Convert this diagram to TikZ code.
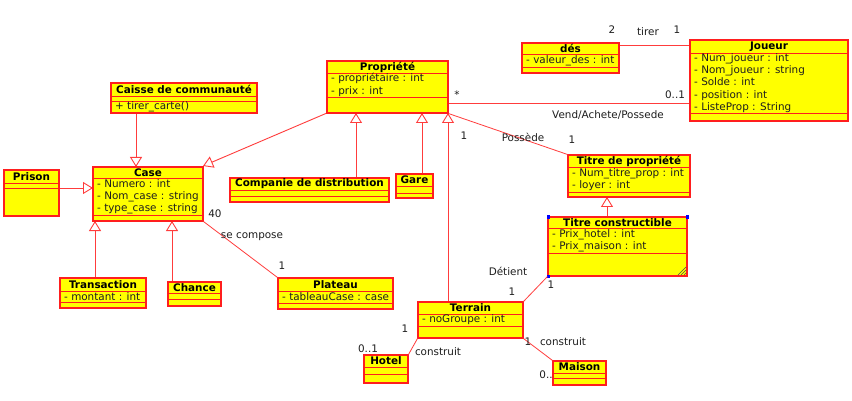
\documentclass[tikz,border=0pt]{standalone}
\usepackage{fontspec}
\setmainfont{DejaVu Sans}
\usetikzlibrary{fit,arrows.meta}
\definecolor{umlfill}{RGB}{255,255,0}
\definecolor{umlline}{RGB}{255,30,30}
\definecolor{umlconn}{RGB}{255,60,60}
\definecolor{umltext}{RGB}{30,30,30}
\tikzset{
  classbox/.style={draw=umlline, fill=umlfill, line width=1.1pt, inner sep=0pt, rectangle},
  sepline/.style={draw=umlline, line width=0.9pt},
  titletext/.style={font=\fontsize{10.4}{12.2}\selectfont\bfseries, text=black, inner sep=0pt},
  attrtext/.style={font=\fontsize{10.4}{12.2}\selectfont, text=umltext, inner sep=0pt, align=left, anchor=west},
  lbl/.style={font=\fontsize{10.4}{12.2}\selectfont, text=umltext, inner sep=0pt},
  gen/.style={draw=umlconn, line width=0.9pt, -{Triangle[open, width=12pt, length=10pt, fill=white]}},
  assoc/.style={draw=umlconn, line width=0.8pt},
}
\newcommand\umlclass[8]{%
  \node[classbox, fit={(#2,#3)(#4,#5)}] (#1) {};
  \draw[sepline] (#2,#6) -- (#4,#6);
  \draw[sepline] (#2,#7) -- (#4,#7);
  \node[titletext] (#1-t) at ({(#2+#4)/2},{(#3+#6)/2}) {#8};
}
\newcommand\umlattr[5]{%
  \node[attrtext] (#1) at ({#2+4},{(#3+#4)/2}) {#5};
}
\begin{document}
\begin{tikzpicture}[x=1pt,y=-1pt]
\useasboundingbox[fill=white] (0,0) rectangle (852,401);

% ---- connectors (drawn first, boxes over them) ----
% generalizations
\path[gen] (136,113) -- (136,167);
\path[gen] (59,188) -- (93,188);
\path[gen] (327,113) -- (203,166);
\path[gen] (95,278) -- (95,221);
\path[gen] (172,282) -- (172,221);
\path[gen] (356,178) -- (356,113);
\path[gen] (422,174) -- (422,113);
\path[gen] (448,302) -- (448,113);
\path[gen] (607,217) -- (607,197);

% ---- classes ----
\umlclass{caisse}{111}{83}{257}{113}{96}{101}{Caisse de communauté}
\umlattr{caisse-o}{111}{101}{113}{+ tirer\_carte()}

\umlclass{case}{93}{167}{203}{221}{178}{215}{Case}
\umlattr{case-a}{93}{178}{215}{- Numero : int\\- Nom\_case : string\\- type\_case : string}

\umlclass{prison}{4}{170}{59}{216}{183}{188}{Prison}

\umlclass{compagnie}{230}{178}{389}{202}{190}{196}{Companie de distribution}

\umlclass{gare}{396}{174}{433}{198}{186}{193}{Gare}

\umlclass{propriete}{327}{61}{448}{113}{73}{97}{Propriété}
\umlattr{propriete-a}{327}{73}{97}{- propriétaire : int\\- prix : int}

\umlclass{des}{522}{43}{619}{73}{54}{67}{dés}
\umlattr{des-a}{522}{54}{67}{- valeur\_des : int}

\umlclass{joueur}{690}{40}{848}{121}{53}{113}{Joueur}
\umlattr{joueur-a}{690}{53}{113}{- Num\_joueur : int\\- Nom\_joueur : string\\- Solde : int\\- position : int\\- ListeProp : String}

\umlclass{titre}{568}{155}{690}{197}{167}{192}{Titre de propriété}
\umlattr{titre-a}{568}{167}{192}{- Num\_titre\_prop : int\\- loyer : int}

\umlclass{constr}{548}{217}{687}{276}{228}{253}{Titre constructible}
\umlattr{constr-a}{548}{228}{253}{- Prix\_hotel : int\\- Prix\_maison : int}
% selection handles
\fill[blue] (546.5,215.5) rectangle (549.5,218.5);
\fill[blue] (685.5,215.5) rectangle (688.5,218.5);
\fill[blue] (546.5,274.5) rectangle (549.5,277.5);
\draw[black!70, line width=0.6pt] (678,275) -- (686,267) (681,275) -- (686,270) (684,275) -- (686,273);

\umlclass{terrain}{418}{302}{523}{338}{314}{326}{Terrain}
\umlattr{terrain-a}{418}{314}{326}{- noGroupe : int}

\node[lbl] (l-maison-m) at (546,375) {0..};
\umlclass{hotel}{364}{355}{408}{383}{367}{374}{Hotel}
\umlclass{maison}{553}{361}{606}{385}{373}{378}{Maison}

\umlclass{transaction}{60}{278}{146}{308}{291}{302}{Transaction}
\umlattr{transaction-a}{60}{291}{302}{- montant : int}

\umlclass{chance}{168}{282}{221}{306}{293}{299}{Chance}

\umlclass{plateau}{278}{278}{393}{309}{291}{303}{Plateau}
\umlattr{plateau-a}{278}{291}{303}{- tableauCase : case}

% ---- associations ----
\draw[assoc] (case.south east) -- (plateau.north west);
\draw[assoc] (propriete.east |- 0,103) -- (joueur.west |- 0,103);
\draw[assoc] (propriete.south east) -- (titre.north west);
\draw[assoc] (terrain.north east) -- (constr.south west);
\draw[assoc] (des.east |- 0,45) -- (joueur.west |- 0,45);
\draw[assoc] (terrain.south west) -- (hotel.north east);
\draw[assoc] (terrain.south east) -- (maison.north west);

% ---- labels ----
\node[lbl] (l-40) at (215,214) {40};
\node[lbl] (l-secompose) at (252,237) {se compose};
\node[lbl] (l-plateau1) at (282,266) {1};
\node[lbl] (l-star) at (457,95) {*};
\node[lbl] (l-joueur01) at (675,95) {0..1};
\node[lbl] (l-vend) at (608,115) {Vend/Achete/Possede};
\node[lbl] (l-prop1) at (464,136) {1};
\node[lbl] (l-possede) at (523,137) {Possède};
\node[lbl] (l-titre1) at (572,140) {1};
\node[lbl] (l-detient) at (508,271) {Détient};
\node[lbl] (l-terrain1) at (512,292) {1};
\node[lbl] (l-constr1) at (551,285) {1};
\node[lbl] (l-terrainh1) at (405,329) {1};
\node[lbl] (l-hotel01) at (368,349) {0..1};
\node[lbl] (l-constrH) at (438,352) {construit};
\node[lbl] (l-terrainm1) at (528,342) {1};
\node[lbl] (l-constrM) at (563,342) {construit};
\node[lbl] (l-des2) at (612,30) {2};
\node[lbl] (l-tirer) at (648,32) {tirer};
\node[lbl] (l-joueur1) at (677,30) {1};
\end{tikzpicture}
\end{document}
